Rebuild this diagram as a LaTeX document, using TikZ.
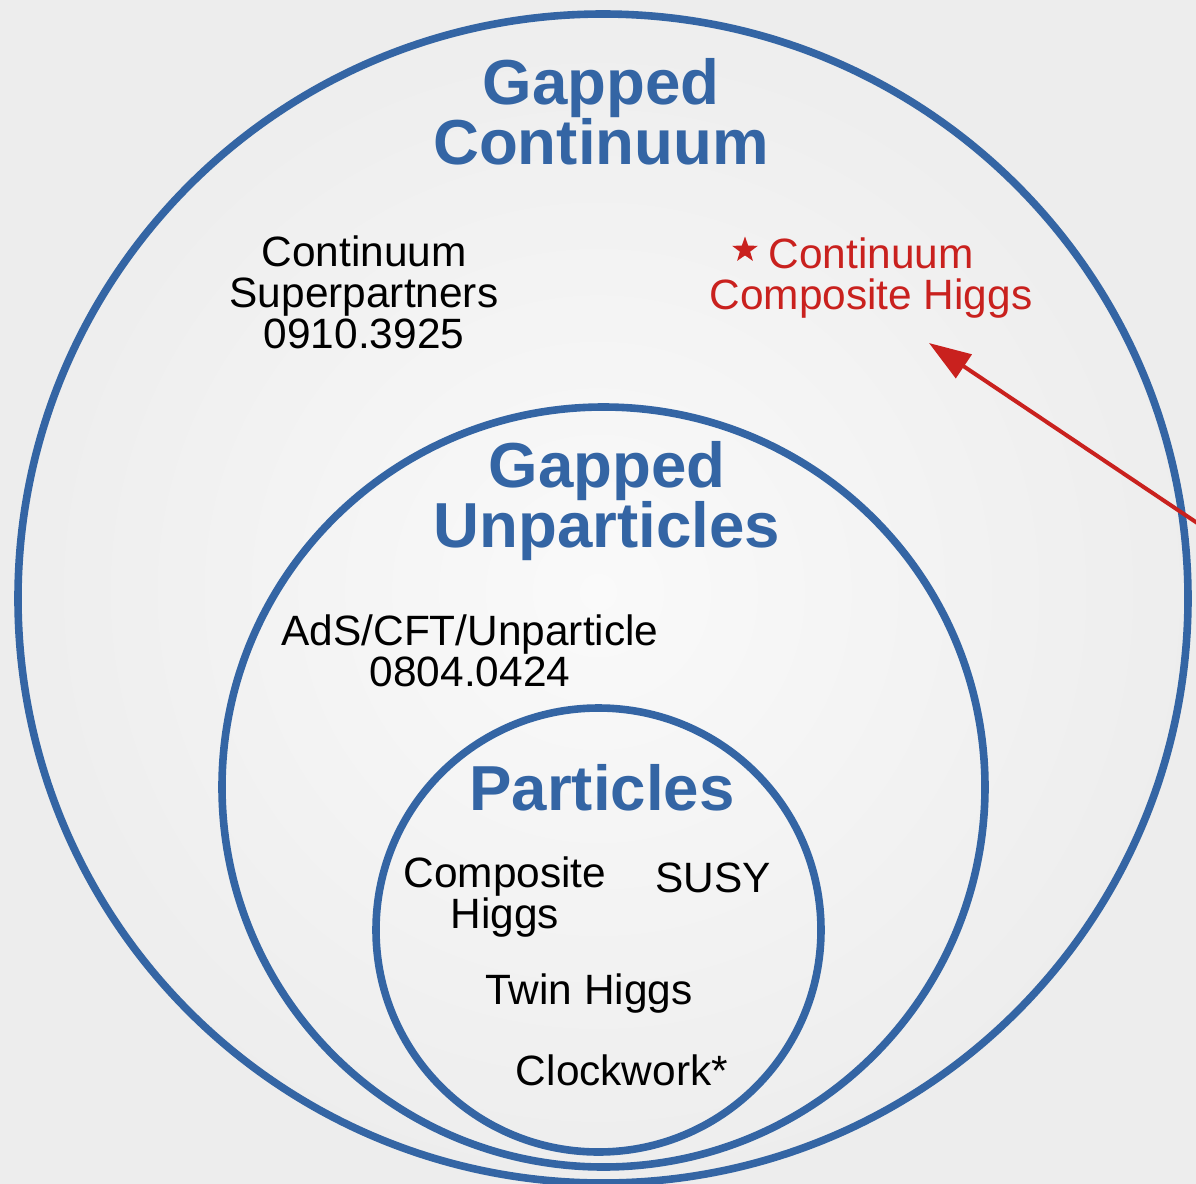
\documentclass[tikz,border=0pt]{standalone}
\usepackage{fontspec}
\setmainfont{Liberation Sans}
\usetikzlibrary{arrows.meta, shapes.geometric}
\definecolor{setblue}{HTML}{3465A4}
\definecolor{notered}{HTML}{C9211E}

\begin{document}
\begin{tikzpicture}[x=0.5pt, y=-0.5pt, >={Triangle[length=21pt, width=14pt]},
    region/.style={draw=setblue, line width=3.8pt},
    title/.style={text=setblue, font=\fontsize{31.8}{30}\selectfont\bfseries, align=center, inner sep=0pt},
    model/.style={font=\fontsize{21.2}{20.5}\selectfont, align=center, inner sep=0pt}]
    % Background
    \useasboundingbox (0,0) rectangle (1196,1184);
    \shade[inner color=black!2, outer color=black!7] (0,0) rectangle (1196,1184);
    \clip (0,0) rectangle (1196,1184);

    % Nested regions
    \draw[region] (603,598.5) ellipse [x radius=292.5pt, y radius=292.25pt];
    \draw[region] (603.5,787) ellipse [x radius=190.75pt, y radius=190pt];
    \draw[region] (598.5,930) ellipse [x radius=111.25pt, y radius=111pt];

    % Region titles
    \node[title] (gcont) at (601,112) {Gapped\\Continuum};
    \node[title] (gunpart) at (607,501) {Gapped\\Unparticles};
    \node[title] (part) at (602,788) {Particles};

    % Models
    \node[model] (superp) at (364,292) {Continuum\\Superpartners\\0910.3925};
    \node[model, text=notered] (cch) at (871,278) {Continuum\\Composite Higgs};
    \node[star, star points=5, star point ratio=2.5, fill=notered, inner sep=0pt,
          minimum size=13.5pt] (cchstar) at (745,250) {};
    \node[model] (adscft) at (470,651) {AdS/CFT/Unparticle\\0804.0424};
    \node[model] (comph) at (505,897) {Composite\\Higgs};
    \node[model] (susy) at (713,878) {SUSY};
    \node[model] (twin) at (589,994) {Twin Higgs};
    \node[model] (clock) at (622,1070) {Clockwork*};

    % Pointer to the continuum composite Higgs
    \coordinate (tail) at (1236,549);
    \coordinate (tip) at (929,343);
    \draw[->, notered, line width=2pt] (tail) -- (tip);
\end{tikzpicture}
\end{document}
